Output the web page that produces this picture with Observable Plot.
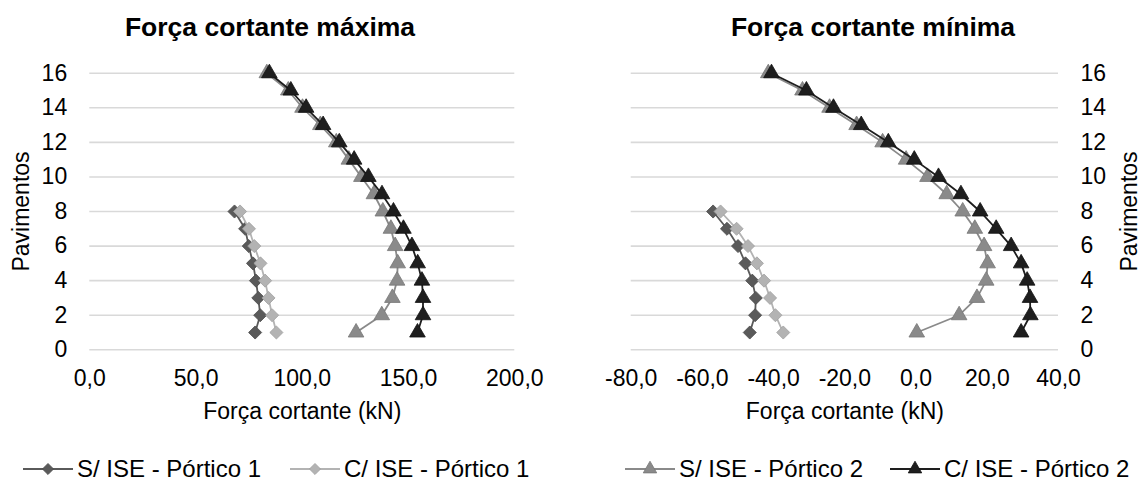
<!DOCTYPE html>
<html><head><meta charset="utf-8">
<script src="https://cdn.jsdelivr.net/npm/d3@7"></script>
<script src="https://cdn.jsdelivr.net/npm/@observablehq/plot@0.6"></script>
<style>
body{margin:0;background:#fff;}
#wrap{position:relative;width:1144px;height:490px;overflow:hidden;font-family:"Liberation Sans",Arial,sans-serif;color:#000;background:#fff;}
.title{position:absolute;font-weight:bold;font-size:26.5px;transform:translate(-50%,-50%);white-space:nowrap;}
.plot{position:absolute;top:0;}
.leg{position:absolute;display:flex;align-items:center;font-size:24px;white-space:nowrap;transform:translateY(-50%);}
.leg svg{margin-right:4px;}
</style></head>
<body><div id="wrap"></div>
<script>
// ---- data ----
const floorsP1 = [1,2,3,4,5,6,7,8];
const floorsP2 = [1,2,3,4,5,6,7,8,9,10,11,12,13,14,15,16];
const yTicks = [0,2,4,6,8,10,12,14,16];
const seriesNames = ["S/ ISE - Pórtico 1","C/ ISE - Pórtico 1","S/ ISE - Pórtico 2","C/ ISE - Pórtico 2"];
// Força cortante máxima
const maxS1 = [77.8,80.2,79.3,78.2,76.8,74.8,73.1,68.1];
const maxC1 = [87.8,85.8,84.1,82.5,80.3,77.4,74.9,70.7];
const maxS2 = [125.3,137.4,142.4,144.6,144.9,143.7,141.7,137.9,133.7,127.8,121.9,116.0,108.5,100.1,93.4,83.3];
const maxC2 = [154.2,156.8,156.8,156.3,154.3,151.6,147.6,142.9,137.5,131.1,124.4,117.4,109.8,101.8,94.6,84.5];
const maxTicks = [0,50,100,150,200];
// Força cortante mínima
const minS1 = [-46.7,-45.2,-45.0,-46.0,-47.9,-50.0,-53.1,-57.0];
const minC1 = [-37.3,-39.5,-41.0,-42.7,-44.7,-47.2,-50.4,-54.9];
const minS2 = [0.2,12.1,17.1,19.7,20.1,19.1,16.5,13.1,8.6,3.2,-2.8,-9.4,-16.7,-24.3,-31.9,-41.5];
const minC2 = [29.5,32.1,32.0,31.2,29.5,26.7,22.5,18.0,12.6,6.3,-0.5,-7.8,-15.4,-23.2,-30.8,-40.6];
const minTicks = [-80,-60,-40,-20,0,20,40];

const colors = ["#5a5a5a","#b3b3b3","#8a8a8a","#1e1e1e"];
const edges  = ["#4a4a4a","#a0a0a0","#777777","#111111"];
const symbols = ["diamond2","diamond2","triangle","triangle"];
const FONT = "'Liberation Sans', Arial, sans-serif";
const fmt = d => d.toFixed(1).replace(".", ",");

function rows(floors, vals){ return vals.map((v,i)=>({floor:floors[i], v})); }

function chart({series, domain, ticks, width, marginLeft, marginRight, yAnchor, yPad, yLabelOffset}){
  const H = 440, mt = 72.7, mb = H - 349.3;
  const marks = [Plot.gridY(yTicks, {stroke:"#d9d9d9", strokeOpacity:1, strokeWidth:1.6})];
  series.forEach((d,i)=>{
    marks.push(Plot.line(d, {x:"v", y:"floor", stroke:colors[i], strokeWidth:1.8}));
    marks.push(Plot.dot(d, {x:"v", y:"floor", symbol:symbols[i], r: i<2 ? 5.9 : 5.8, fill:colors[i], stroke:edges[i], strokeWidth:0.8}));
  });
  marks.push(Plot.axisX({ticks, tickSize:0, tickPadding:19.5, tickFormat:fmt, label:"Força cortante (kN)", labelAnchor:"center", labelArrow:"none", labelOffset:69, fontSize:23}));
  marks.push(Plot.axisY({anchor:yAnchor, ticks:yTicks, tickSize:0, tickPadding:yPad, tickFormat:d=>String(d), label:"Pavimentos", labelAnchor:"center", labelArrow:"none", labelOffset:yLabelOffset, fontSize:23}));
  return Plot.plot({
    width, height:H, marginTop:mt, marginBottom:mb, marginLeft, marginRight,
    x:{domain, type:"linear"}, y:{domain:[0,16]},
    style:{fontFamily:FONT, fontSize:"23px", color:"#000", background:"#fff", overflow:"visible"},
    marks
  });
}

const wrap = document.getElementById("wrap");

const left = chart({
  series:[rows(floorsP1,maxS1), rows(floorsP1,maxC1), rows(floorsP2,maxS2), rows(floorsP2,maxC2)],
  domain:[0,200], ticks:maxTicks, width:570, marginLeft:89.3, marginRight:570-514.3,
  yAnchor:"left", yPad:22.6, yLabelOffset:77.5
});
left.classList.add("plot"); left.style.left = "0px";
wrap.appendChild(left);

const right = chart({
  series:[rows(floorsP1,minS1), rows(floorsP1,minC1), rows(floorsP2,minS2), rows(floorsP2,minC2)],
  domain:[-80,40], ticks:minTicks, width:574, marginLeft:630.7-570, marginRight:1144-1058,
  yAnchor:"right", yPad:22, yLabelOffset:78
});
right.classList.add("plot"); right.style.left = "570px";
wrap.appendChild(right);

// titles
[["Força cortante máxima",270],["Força cortante mínima",873]].forEach(([t,x])=>{
  const d = document.createElement("div"); d.className="title"; d.textContent=t;
  d.style.left = x+"px"; d.style.top = "27px"; wrap.appendChild(d);
});

// legend
const legX = [23, 290, 625, 890];
seriesNames.forEach((name,i)=>{
  const item = document.createElement("div"); item.className="leg";
  item.style.left = legX[i]+"px"; item.style.top = "469px";
  const sym = d3.symbol(i<2 ? d3.symbolDiamond2 : d3.symbolTriangle, Math.PI*5.6*5.6*0.8)();
  item.innerHTML = `<svg width="50" height="20" viewBox="0 0 50 20"><line x1="0" x2="50" y1="10" y2="10" stroke="${colors[i]}" stroke-width="1.8"/><path d="${sym}" transform="translate(25,10)" fill="${colors[i]}" stroke="${edges[i]}" stroke-width="0.8"/></svg><span>${name}</span>`;
  wrap.appendChild(item);
});
</script></body></html>
